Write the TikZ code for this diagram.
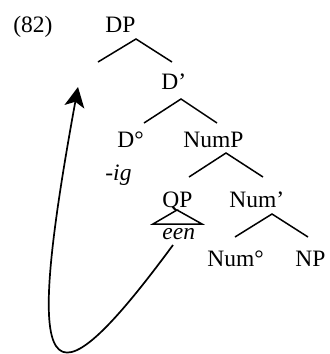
\documentclass[tikz,border=0pt]{standalone}
\usepackage{fontspec}
\setmainfont{Liberation Serif}
\usetikzlibrary{arrows.meta}

\tikzset{
  lbl/.style={anchor=base west,inner sep=0pt,font=\fontsize{11.75}{14}\selectfont},
  branch/.style={line width=0.75pt},
  move/.style={line width=0.85pt,-{Stealth[length=10pt,width=10pt,inset=2.5pt]}}
}

\begin{document}
\begin{tikzpicture}[x=0.5pt,y=-0.5pt]
  \useasboundingbox (0,0) rectangle (329,354);
  % example number and labels
  \node[lbl] (ex)    at (13,32)  {(82)};
  \node[lbl] (dp)    at (105,32) {DP};
  \node[lbl] (dbar)  at (161,89) {D’};
  \node[lbl] (dhead) at (117,147) {D°};
  \node[lbl] (nump)  at (183,147) {NumP};
  \node[lbl] (ig)    at (105,180) {\itshape -ig};
  \node[lbl] (qp)    at (162,207) {QP};
  \node[lbl] (numbar) at (229,207) {Num’};
  \node[lbl] (een)   at (162,239) {\itshape een};
  \node[lbl] (numhead) at (207,266) {Num°};
  \node[lbl] (np)    at (295,266) {NP};
  % branch points
  \coordinate (dp-top)  at (136,39);
  \coordinate (dp-l)    at (98,62);
  \coordinate (dp-r)    at (172,62);
  \coordinate (db-top)  at (181,99);
  \coordinate (db-l)    at (144,123);
  \coordinate (db-r)    at (217,123);
  \coordinate (np-top)  at (226,153);
  \coordinate (np-l)    at (189,177);
  \coordinate (np-r)    at (263,177);
  \coordinate (nb-top)  at (272,214);
  \coordinate (nb-l)    at (235,237);
  \coordinate (nb-r)    at (308,237);
  \coordinate (qp-top)  at (177,210);
  \coordinate (qp-l)    at (153,224);
  \coordinate (qp-r)    at (202,224);
  % branches
  \draw[branch] (dp-l) -- (dp-top) -- (dp-r);
  \draw[branch] (db-l) -- (db-top) -- (db-r);
  \draw[branch] (np-l) -- (np-top) -- (np-r);
  \draw[branch] (nb-l) -- (nb-top) -- (nb-r);
  \draw[branch] (qp-l) -- (qp-top) -- (qp-r) -- cycle;
  % movement arrow
  \coordinate (een-foot) at (173,245);
  \coordinate (landing)  at (78,87);
  \draw[move] (een-foot) .. controls (44,420) and (23,388) .. (landing);
\end{tikzpicture}
\end{document}
